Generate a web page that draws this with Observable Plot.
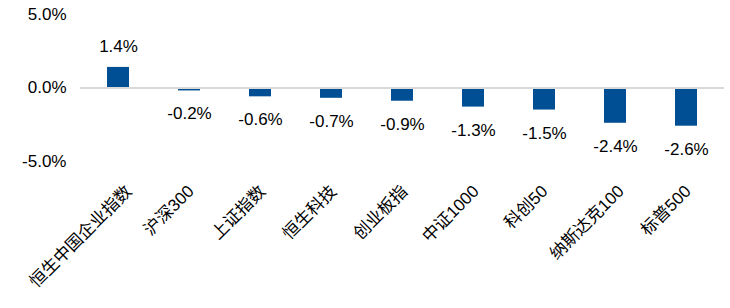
<!DOCTYPE html>
<html>
<head>
<meta charset="utf-8">
<script src="https://cdn.jsdelivr.net/npm/d3@7"></script>
<script src="https://cdn.jsdelivr.net/npm/@observablehq/plot@0.6"></script>
<style>
  html, body { margin: 0; padding: 0; background: #fff; }
  svg { display: block; }
</style>
</head>
<body>
<div id="chart"></div>
<script>
const categories = ["恒生中国企业指数", "沪深300", "上证指数", "恒生科技", "创业板指", "中证1000", "科创50", "纳斯达克100", "标普500"];
const values = [1.4, -0.2, -0.6, -0.7, -0.9, -1.3, -1.5, -2.4, -2.6];
const yTicks = [-5, 0, 5];

const data = categories.map((c, i) => ({ name: c, value: values[i] }));
const fmt = v => v.toFixed(1) + "%";
const FONT = "'Liberation Sans', Arial, 'Noto Sans CJK SC', sans-serif";

// Excel-like placement of rotated labels: longer labels sit a little further right
const ctx = document.createElement("canvas").getContext("2d");
ctx.font = "17px " + FONT;
const labelShift = c => 0.12 * ctx.measureText(c).width - 6;

const chart = Plot.plot({
  width: 730,
  height: 308,
  marginTop: 14,
  marginBottom: 147,
  marginLeft: 80,
  marginRight: 6,
  style: { fontFamily: FONT, fontSize: "17px", color: "#000", background: "#fff" },
  x: { domain: categories, paddingInner: 0.69, paddingOuter: 0.345, label: null },
  y: { domain: [-5, 5], label: null },
  marks: [
    Plot.axisY({ ticks: yTicks, tickFormat: fmt, tickSize: 0, tickPadding: 14, fontSize: 17, label: null }),
    ...categories.map(c => Plot.axisX({ ticks: [c], tickRotate: -45, tickSize: 0, tickPadding: 27, dx: labelShift(c), fontSize: 17, label: null })),
    Plot.barY(data, { x: "name", y: "value", fill: "#004f95" }),
    Plot.ruleY([0], { stroke: "#d9d9d9", strokeWidth: 2 }),
    Plot.text(data.filter(d => d.value >= 0), { x: "name", y: "value", text: d => fmt(d.value), dy: -21, fontSize: 17, fill: "#000" }),
    Plot.text(data.filter(d => d.value < 0), { x: "name", y: "value", text: d => fmt(d.value), dy: 23, fontSize: 17, fill: "#000" })
  ]
});
document.getElementById("chart").appendChild(chart);
</script>
</body>
</html>
